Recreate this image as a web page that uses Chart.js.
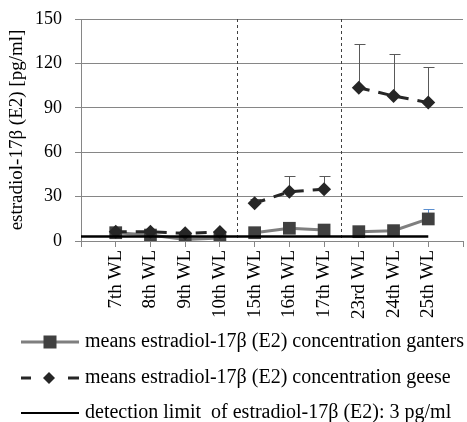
<!DOCTYPE html>
<html>
<head>
<meta charset="utf-8">
<script src="https://cdn.jsdelivr.net/npm/chart.js@4/dist/chart.umd.min.js"></script>
<style>
  html, body { margin: 0; padding: 0; background: #fff; }
  #wrap { width: 467px; height: 422px; }
</style>
</head>
<body>
<div id="wrap"><canvas id="e2Chart" width="467" height="422"></canvas></div>
<script>
// weeks of laying; empty slots at both ends keep the axis like the original
const weeks = ['', '7th WL', '8th WL', '9th WL', '10th WL', '15th WL', '16th WL', '17th WL', '23rd WL', '24th WL', '25th WL', ''];
const ganters = [null, 5.6, 4.0, 1.1, 2.0, 5.6, 8.6, 7.4, 6.3, 7.0, 14.9, null];
const gantersErr = [null, 0, 0, 0, 0, 0, 0, 0, 0, 0, 6.5, null];
const geese = [null, 6.2, 6.2, 5.2, 6.0, 25.5, 33.3, 35.0, 103.6, 98.0, 93.5, null];
const geeseErr = [null, 0, 0, 0, 0, 3.0, 10.7, 9.0, 29.4, 28.4, 23.9, null];
const detectionLimit = [3, 3, 3, 3, 3, 3, 3, 3, 3, 3, 3, null];
// phase borders sit between these category indexes
const phaseBreaks = [4, 7];

const serif = "'Liberation Serif', 'Times New Roman', serif";
const gridGrey = '#868686';

// no connecting line across a phase border
const breakSegment = ctx => phaseBreaks.includes(ctx.p0DataIndex) ? 'rgba(0,0,0,0)' : undefined;

const phaseLines = {
    id: 'phaseLines',
    beforeDatasetsDraw(chart) {
        const x = chart.scales.x, area = chart.chartArea, c = chart.ctx;
        c.save();
        c.strokeStyle = '#404040';
        c.lineWidth = 1;
        c.setLineDash([3, 3]);
        phaseBreaks.forEach(i => {
            const px = Math.round((x.getPixelForValue(i) + x.getPixelForValue(i + 1)) / 2) + 0.5;
            c.beginPath();
            c.moveTo(px, area.top);
            c.lineTo(px, area.bottom);
            c.stroke();
        });
        c.restore();
    }
};

const errorBars = {
    id: 'errorBars',
    beforeDatasetsDraw(chart) {
        const x = chart.scales.x, y = chart.scales.y, c = chart.ctx;
        chart.data.datasets.forEach(ds => {
            if (!ds.errors) return;
            c.save();
            c.strokeStyle = ds.errorColor;
            c.lineWidth = 1;
            ds.data.forEach((v, i) => {
                const e = ds.errors[i];
                if (v == null || !e) return;
                const px = Math.round(x.getPixelForValue(i)) + 0.5;
                const y0 = y.getPixelForValue(v), y1 = Math.round(y.getPixelForValue(v + e)) + 0.5;
                c.beginPath();
                c.moveTo(px, y0);
                c.lineTo(px, y1);
                c.moveTo(px - 5, y1);
                c.lineTo(px + 6, y1);
                c.stroke();
            });
            c.restore();
        });
    }
};

// legend drawn by hand: line sample with marker, then the label
const legendRows = {
    id: 'legendRows',
    afterDraw(chart) {
        const c = chart.ctx, h = chart.height;
        const rowsY = [h - 80, h - 44, h - 9];
        const x0 = 21, x1 = 79, tx = 85;
        chart.data.datasets.forEach((ds, i) => {
            const cy = rowsY[i];
            c.save();
            if (i === 0) {
                c.strokeStyle = '#7f7f7f';
                c.lineWidth = 3;
                c.beginPath(); c.moveTo(x0, cy); c.lineTo(x1, cy); c.stroke();
                c.fillStyle = '#404040';
                c.fillRect((x0 + x1) / 2 - 6.5, cy - 6.5, 13, 13);
            } else if (i === 1) {
                c.strokeStyle = '#262626';
                c.lineWidth = 3;
                c.beginPath();
                c.moveTo(x0, cy); c.lineTo(x0 + 10, cy);
                c.moveTo(x1 - 11, cy); c.lineTo(x1, cy);
                c.stroke();
                const mx = (x0 + x1) / 2 - 1;
                c.fillStyle = '#262626';
                c.beginPath();
                c.moveTo(mx, cy - 6); c.lineTo(mx + 6, cy); c.lineTo(mx, cy + 6); c.lineTo(mx - 6, cy);
                c.closePath(); c.fill();
            } else {
                c.strokeStyle = '#000';
                c.lineWidth = 2;
                c.beginPath(); c.moveTo(x0, cy); c.lineTo(x1, cy); c.stroke();
            }
            c.fillStyle = '#000';
            c.font = '20px ' + serif;
            c.textBaseline = 'middle';
            c.textAlign = 'left';
            c.fillText(ds.label, tx, cy);
            c.restore();
        });
    }
};

const ctx = document.getElementById('e2Chart').getContext('2d');
new Chart(ctx, {
    type: 'line',
    data: {
        labels: weeks,
        datasets: [
            {
                label: 'means estradiol-17\u03b2 (E2) concentration ganters',
                data: ganters,
                errors: gantersErr,
                errorColor: '#5b8fd0',
                borderColor: '#7f7f7f',
                borderWidth: 3,
                pointStyle: 'rect',
                pointRadius: 9,
                pointBackgroundColor: '#404040',
                pointBorderColor: '#404040',
                pointBorderWidth: 0,
                segment: { borderColor: breakSegment },
                order: 3
            },
            {
                label: 'means estradiol-17\u03b2 (E2) concentration geese',
                data: geese,
                errors: geeseErr,
                errorColor: '#595959',
                borderColor: '#262626',
                borderWidth: 3,
                borderDash: [11, 9],
                pointStyle: 'rectRot',
                pointRadius: 7,
                pointBackgroundColor: '#262626',
                pointBorderColor: '#262626',
                pointBorderWidth: 0,
                segment: { borderColor: breakSegment },
                order: 2
            },
            {
                label: 'detection limit  of estradiol-17\u03b2 (E2): 3 pg/ml',
                data: detectionLimit,
                borderColor: '#000',
                borderWidth: 2.5,
                pointRadius: 0,
                order: 1
            }
        ]
    },
    options: {
        responsive: false,
        animation: false,
        layout: { autoPadding: false, padding: { left: 0, right: 4, top: 19, bottom: 101 } },
        plugins: {
            tooltip: { enabled: false },
            legend: { display: false }
        },
        scales: {
            x: {
                type: 'category',
                offset: false,
                afterFit(scale) {
                    scale.height = 80;
                    scale.paddingLeft = 0;
                    scale.paddingRight = 0;
                },
                grid: { drawOnChartArea: false, drawTicks: true, tickLength: 6, color: gridGrey },
                border: { color: gridGrey },
                ticks: {
                    autoSkip: false,
                    minRotation: 90,
                    maxRotation: 90,
                    padding: 3,
                    color: '#000',
                    font: { family: serif, size: 19 }
                }
            },
            y: {
                min: 0,
                max: 150,
                afterFit(scale) {
                    scale.width = 81;
                    scale.paddingTop = 0;
                    scale.paddingBottom = 0;
                },
                grid: { color: gridGrey, tickLength: 6 },
                border: { color: gridGrey },
                ticks: {
                    stepSize: 30,
                    padding: 13,
                    color: '#000',
                    font: { family: serif, size: 18 }
                },
                title: {
                    display: true,
                    text: 'estradiol-17\u03b2 (E2) [pg/ml]',
                    color: '#000',
                    font: { family: serif, size: 19 },
                    padding: { top: 6, bottom: 0 }
                }
            }
        }
    },
    plugins: [phaseLines, errorBars, legendRows]
});
</script>
</body>
</html>
